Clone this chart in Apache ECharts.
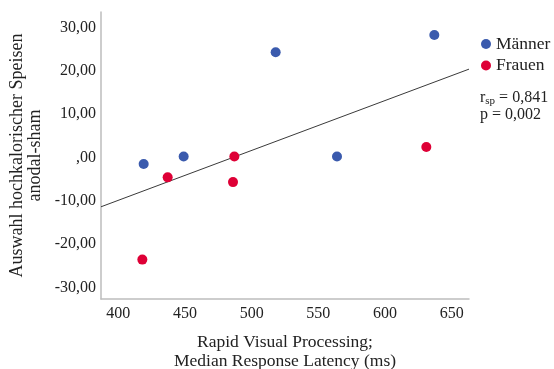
<!DOCTYPE html>
<html>
<head>
<meta charset="utf-8">
<script src="https://cdn.jsdelivr.net/npm/echarts@6/dist/echarts.min.js"></script>
<style>
  html, body { margin: 0; padding: 0; background: #fff; }
  #chart { width: 554px; height: 369px; }
</style>
</head>
<body>
<div id="chart"></div>
<script>
// Rapid Visual Processing latency vs. high-calorie food choice (anodal - sham)
const maennerLatency = [419, 449, 518, 564, 637];
const maennerChoice  = [-1.5, 0.2, 24.3, 0.2, 28.3];
const frauenLatency  = [418, 437, 487, 486, 631];
const frauenChoice   = [-23.6, -4.6, 0.2, -5.7, 2.4];

// Fitted regression line across the plotted range
const fitLatency = [387, 663];
const fitChoice  = [-11.4, 20.4];

const xTicks = [400, 450, 500, 550, 600, 650];
const yTicks = [-30, -20, -10, 0, 10, 20, 30];
const yTickLabels = ['-30,00', '-20,00', '-10,00', ',00', '10,00', '20,00', '30,00'];

const seriesNames = ['Männer', 'Frauen'];
const corrText = { r: '0,841', p: '0,002' };

const serif = '"Liberation Serif", "Times New Roman", serif';
const blue = '#3a5aad';
const red = '#de0036';

const zip = (a, b) => a.map((v, i) => [v, b[i]]);

const chart = echarts.init(document.getElementById('chart'), null, { renderer: 'canvas' });
chart.setOption({
  animation: false,
  backgroundColor: '#fff',
  grid: { left: 101, top: 12, right: 85, bottom: 70, containLabel: false, outerBoundsMode: 'none' },
  xAxis: {
    type: 'value',
    min: 387, max: 663,
    axisLine: { show: true, onZero: false, lineStyle: { color: '#bdbdbd', width: 1.5 } },
    axisTick: { show: false },
    splitLine: { show: false },
    axisLabel: {
      customValues: xTicks,
      fontFamily: serif, fontSize: 16, color: '#222', margin: 7
    },
    name: 'Rapid Visual Processing;\nMedian Response Latency (ms)',
    nameLocation: 'middle',
    nameGap: 34,
    nameTextStyle: { fontFamily: serif, fontSize: 17.5, color: '#222', lineHeight: 19, verticalAlign: 'top' }
  },
  yAxis: {
    type: 'value',
    min: -32.7, max: 33.6,
    axisLine: { show: true, onZero: false, lineStyle: { color: '#bdbdbd', width: 1.5 } },
    axisTick: { show: false },
    splitLine: { show: false },
    axisLabel: {
      customValues: yTicks,
      fontFamily: serif, fontSize: 16, color: '#222', margin: 5,
      formatter: v => yTickLabels[yTicks.indexOf(Math.round(v))] || ''
    },
    name: 'Auswahl hochkalorischer Speisen\nanodal-sham',
    nameLocation: 'middle',
    nameRotate: 90,
    nameGap: 56,
    nameTextStyle: { fontFamily: serif, fontSize: 18, color: '#222', lineHeight: 18 }
  },
  legend: {
    orient: 'vertical',
    left: 476, top: 30,
    itemWidth: 10, itemHeight: 10, itemGap: 3.5,
    icon: 'circle',
    data: seriesNames,
    textStyle: { fontFamily: serif, fontSize: 17.5, lineHeight: 16, color: '#222', padding: [0, 0, 0, 0] }
  },
  graphic: [
    {
      type: 'text', left: 480, top: 90,
      style: {
        text: '{r|r}{s|sp}{t| = ' + corrText.r + '}',
        rich: {
          r: { fontFamily: serif, fontSize: 16, fill: '#222' },
          s: { fontFamily: serif, fontSize: 11, fill: '#222', verticalAlign: 'bottom', padding: [6, 0, 0, 0] },
          t: { fontFamily: serif, fontSize: 16, fill: '#222' }
        }
      }
    },
    {
      type: 'text', left: 480, top: 107,
      style: { text: 'p = ' + corrText.p, fontFamily: serif, fontSize: 16, fill: '#222' }
    }
  ],
  series: [
    {
      name: 'fit', type: 'line', data: zip(fitLatency, fitChoice),
      showSymbol: false, silent: true, z: 1,
      lineStyle: { color: '#3a3a3a', width: 1 }
    },
    {
      name: seriesNames[0], type: 'scatter', data: zip(maennerLatency, maennerChoice),
      symbolSize: 10, itemStyle: { color: blue, opacity: 1 }, z: 3
    },
    {
      name: seriesNames[1], type: 'scatter', data: zip(frauenLatency, frauenChoice),
      symbolSize: 10, itemStyle: { color: red, opacity: 1 }, z: 3
    }
  ]
});
</script>
</body>
</html>
